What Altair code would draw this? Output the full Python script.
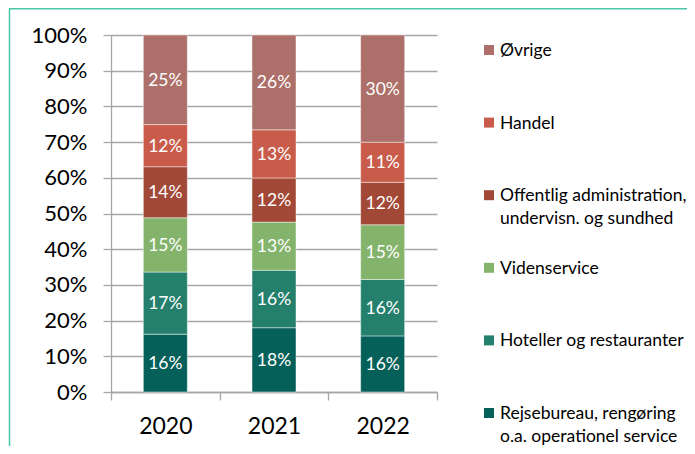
import altair as alt
import pandas as pd

years = ["2020", "2021", "2022"]
# bottom -> top stacking order
categories = [
    "Rejsebureau, rengøring\no.a. operationel service",
    "Hoteller og restauranter",
    "Videnservice",
    "Offentlig administration,\nundervisn. og sundhed",
    "Handel",
    "Øvrige",
]
colors = ["#06605a", "#24806c", "#84b36c", "#a24836", "#c85b4a", "#ad6f69"]

rejse = [16.2, 17.9, 15.7]
hoteller = [17.4, 16.0, 15.8]
viden = [15.2, 13.4, 15.3]
offentlig = [14.3, 12.3, 11.9]
handel = [11.8, 13.4, 11.2]
ovrige = [25.1, 26.4, 30.0]
series = [rejse, hoteller, viden, offentlig, handel, ovrige]

tick_values = [0, 0.1, 0.2, 0.3, 0.4, 0.5, 0.6, 0.7, 0.8, 0.9, 1.0]

rows = []
for ci, (cat, vals) in enumerate(zip(categories, series)):
    for y, v in zip(years, vals):
        rows.append({"year": y, "cat": cat, "order": ci, "value": v})
df = pd.DataFrame(rows)

legend_order = list(reversed(categories))
legend_df = pd.DataFrame({"cat": legend_order})

color_scale = alt.Scale(domain=categories, range=colors)
FONT = "Lato"
GREY = "#a6a6a6"

base = (
    alt.Chart(df)
    .transform_joinaggregate(total="sum(value)", groupby=["year"])
    .transform_calculate(pct="datum.value / datum.total")
    .transform_stack(stack="pct", groupby=["year"], as_=["y0", "y1"],
                     sort=[alt.SortField("order", order="ascending")])
    .transform_calculate(mid="(datum.y0 + datum.y1) / 2",
                         label="format(datum.value, '.0f') + '%'")
)

x_axis = alt.Axis(
    title=None, labelAngle=0, tickBand="extent", domainColor=GREY,
    domainWidth=1.3, tickColor=GREY, tickWidth=1.3, tickSize=8,
    labelFont=FONT, labelFontSize=23, labelColor="#000000",
    labelPadding=15,
)
x_scale = alt.Scale(paddingInner=0, paddingOuter=0)

y_axis = alt.Axis(
    title=None, format=".0%", values=tick_values, tickCount=11,
    grid=True, gridColor=GREY, gridWidth=1.3, domainColor=GREY,
    domainWidth=1.3, tickColor=GREY, tickWidth=1.3, tickSize=8,
    labelFont=FONT, labelFontSize=22, labelColor="#000000",
    labelPadding=16, labelOverlap=False,
)
y_scale = alt.Scale(domain=[0, 1], nice=False)

bars = base.mark_bar(width=alt.RelativeBandSize(0.405), stroke="#ffffff",
                     strokeOpacity=0.45, strokeWidth=1).encode(
    x=alt.X("year:N", sort=years, scale=x_scale, axis=x_axis),
    y=alt.Y("y0:Q", scale=y_scale, axis=y_axis),
    y2="y1:Q",
    color=alt.Color("cat:N", scale=color_scale, legend=None),
)

texts = base.mark_text(font=FONT, fontSize=17.5, color="white",
                       baseline="middle", dy=1).encode(
    x=alt.X("year:N", sort=years, scale=x_scale, axis=x_axis),
    y=alt.Y("mid:Q", scale=y_scale, axis=y_axis),
    text="label:N",
)

legend_y = alt.Y("cat:N", sort=legend_order,
                 scale=alt.Scale(type="point", domain=legend_order,
                                 range=[15, 378], padding=0),
                 axis=None)

leg_sq = alt.Chart(legend_df).mark_square(size=100, opacity=1).encode(
    x=alt.value(378),
    y=legend_y,
    color=alt.Color("cat:N", scale=color_scale, legend=None),
)

leg_txt = alt.Chart(legend_df).mark_text(
    font=FONT, fontSize=17.5, align="left", baseline="alphabetic", dy=6,
    lineBreak="\n", lineHeight=23, color="#000000",
).encode(
    x=alt.value(389),
    y=legend_y,
    text="cat:N",
)

frame = alt.Chart(alt.Data(values=[{}])).mark_rect(
    fill=None, stroke="#4cc4a6", strokeWidth=1.5
).encode(
    x=alt.value(-101.5), x2=alt.value(800),
    y=alt.value(-26.3), y2=alt.value(800),
)

legend_layer = alt.layer(leg_sq, leg_txt)
main = alt.layer(bars, texts)

chart = (
    alt.layer(frame, main, legend_layer)
    .resolve_scale(y="independent")
    .properties(
        width=326, height=357,
        autosize=alt.AutoSizeParams(type="none"),
        padding={"left": 103, "top": 27, "right": 250, "bottom": 54},
    )
    .configure_view(stroke=None)
    .configure_axis(labelOverlap=False)
)

chart.save("out.html", embed_options={"renderer": "svg", "actions": False})
